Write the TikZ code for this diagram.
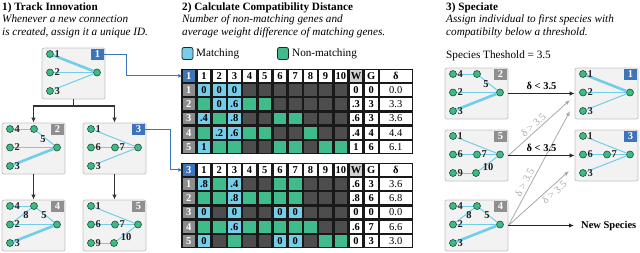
\documentclass[tikz,border=0pt]{standalone}
\usepackage{fontspec}
\setmainfont{Liberation Serif}
\usetikzlibrary{arrows.meta}

\definecolor{cm}{HTML}{74CDE9}
\definecolor{cn}{HTML}{40BB8C}
\definecolor{ca}{HTML}{4D4D4D}
\definecolor{rowgray}{HTML}{8C8C8C}
\definecolor{badgeblue}{HTML}{3D74BB}
\definecolor{badgegray}{HTML}{8F8F8F}
\definecolor{edgecyan}{HTML}{72CDE8}
\definecolor{nodegreen}{HTML}{3DBB84}
\definecolor{nodeline}{HTML}{1E4D38}
\definecolor{boxfill}{HTML}{F2F2F2}
\definecolor{boxline}{HTML}{C4C4C4}
\definecolor{arrowgray}{HTML}{A9A9A9}

\newcommand\myfs[1]{\fontsize{#1}{#1}\selectfont}

\newcommand\gframe[2]{%
  \node[gbox] (-box) at (31.5,25.5) {};%
  \node[badge, fill=#2] (-badge) at (55.5,6.5) {#1};%
}
% label right of a gene node: name, x, y, text
\newcommand\nlab[4]{\node[nl, anchor=west] (#1) at (#2+4.5,#3) {#4};}

\tikzset{
  x=1pt, y=-1pt,
  every node/.style={inner sep=0pt, font=\myfs{10.5}},
  ttl/.style={font=\myfs{11.2}\bfseries, anchor=base west},
  dsc/.style={font=\myfs{11.2}\itshape, anchor=base west},
  plaintxt/.style={font=\myfs{11.2}, anchor=base west},
  gbox/.style={draw=boxline, fill=boxfill, rounded corners=2pt, minimum width=63pt, minimum height=51pt, line width=0.8pt},
  badge/.style={minimum width=13pt, minimum height=11pt, text=white, font=\myfs{10.5}\bfseries},
  gn/.style={circle, fill=nodegreen, draw=nodeline, line width=0.6pt, minimum size=7pt},
  nl/.style={font=\myfs{10.5}\bfseries, text=black!85},
  wl/.style={font=\myfs{10.5}\bfseries, text=black!90},
  conn/.style={edgecyan, line width=1pt},
  thickconn/.style={edgecyan, line width=2.6pt},
  treearrow/.style={draw=black!80, line width=1.1pt, -{Latex[length=5pt,width=4.5pt]}},
  bconn/.style={draw=badgeblue, line width=0.9pt, -{Latex[length=4pt,width=4pt]}},
  karrow/.style={draw=black!85, line width=1.1pt, -{Latex[length=5pt,width=4.5pt]}},
  klabel/.style={font=\myfs{10.5}\bfseries},
  garrow/.style={draw=arrowgray, line width=0.8pt, -{Latex[length=5pt,width=4pt]}},
  glabel/.style={font=\myfs{10.5}, text=arrowgray},
  tbg/.style={fill=black!90, minimum width=232pt, minimum height=85.8pt},
  tcell/.style={minimum width=12.6pt, minimum height=11.8pt, font=\myfs{10.5}\bfseries},
  legsq/.style={draw=black!85, line width=0.8pt, rounded corners=2pt, minimum width=11pt, minimum height=12pt},
  genomeone/.pic={
    \gframe{1}{badgeblue}
    \node[gn] (-n1) at (8,6) {};
    \node[gn] (-n2) at (8,24.5) {};
    \node[gn] (-n3) at (8,43) {};
    \node[gn] (-o) at (55,24.5) {};
    \draw[thickconn] (-n1) -- (-o);
    \draw[conn] (-n2) -- (-o);
    \draw[conn] (-n3) -- (-o);
    \nlab{-l1}{8}{6}{1}
    \nlab{-l2}{8}{24.5}{2}
    \nlab{-l3}{8}{43}{3}
  },
  genometwo/.pic={
    \gframe{2}{badgegray}
    \node[gn] (-n4) at (8,6) {};
    \node[gn] (-h) at (32,6) {};
    \node[gn] (-n2) at (8,24.5) {};
    \node[gn] (-n3) at (8,43) {};
    \node[gn] (-o) at (55,24.5) {};
    \draw[conn] (-n4) -- (-h);
    \draw[conn] (-h) -- (-o);
    \draw[conn] (-n2) -- (-o);
    \draw[thickconn] (-n3) -- (-o);
    \nlab{-l4}{8}{6}{4}
    \nlab{-l2}{8}{24.5}{2}
    \nlab{-l3}{8}{43}{3}
    \node[wl] (-w5) at (41,16) {5};
  },
  genomethree/.pic={
    \gframe{3}{badgeblue}
    \node[gn] (-n1) at (8,6) {};
    \node[gn] (-n6) at (8,24.5) {};
    \node[gn] (-h7) at (32,24.5) {};
    \node[gn] (-n3) at (8,43) {};
    \node[gn] (-o) at (55,24.5) {};
    \draw[conn] (-n1) -- (-o);
    \draw[conn] (-n6) -- (-h7);
    \draw[conn] (-h7) -- (-o);
    \draw[conn] (-n3) -- (-o);
    \nlab{-l1}{8}{6}{1}
    \nlab{-l6}{8}{24.5}{6}
    \nlab{-l7}{32}{24.5}{7}
    \nlab{-l3}{8}{43}{3}
  },
  genomefour/.pic={
    \gframe{4}{badgegray}
    \node[gn] (-n4) at (8,6) {};
    \node[gn] (-h) at (32,6) {};
    \node[gn] (-n2) at (8,24.5) {};
    \node[gn] (-n3) at (8,43) {};
    \node[gn] (-o) at (55,24.5) {};
    \draw[conn] (-n4) -- (-h);
    \draw[conn] (-h) -- (-o);
    \draw[conn] (-n2) -- (-h);
    \draw[conn] (-n2) -- (-o);
    \draw[thickconn] (-n3) -- (-o);
    \nlab{-l4}{8}{6}{4}
    \nlab{-l2}{8}{24.5}{2}
    \nlab{-l3}{8}{43}{3}
    \node[wl] (-w8) at (24,15) {8};
    \node[wl] (-w5) at (42,15.5) {5};
  },
  genomefive/.pic={
    \gframe{5}{badgegray}
    \node[gn] (-n1) at (8,6) {};
    \node[gn] (-n6) at (8,24.5) {};
    \node[gn] (-h7) at (32,24.5) {};
    \node[gn] (-o) at (55,24.5) {};
    \node[gn] (-n9) at (8,43) {};
    \node[gn] (-h10) at (31,43) {};
    \draw[conn] (-n1) -- (-o);
    \draw[conn] (-n6) -- (-h7);
    \draw[conn] (-h7) -- (-o);
    \draw[conn] (-n9) -- (-h10);
    \draw[conn] (-h10) -- (-o);
    \nlab{-l1}{8}{6}{1}
    \nlab{-l6}{8}{24.5}{6}
    \nlab{-l7}{32}{24.5}{7}
    \nlab{-l9}{8}{43}{9}
    \node[wl] (-w10) at (43,37) {10};
  },
}

\newcommand\drawtable[4]{%
  \node[tbg] (#1-bg) at (297,#2+42.9) {};
  \node[tcell, fill=badgeblue, text=white] (#1-0-0) at (188.8,#2+7.4) {#3};
  \foreach \jj in {1,...,10} {\node[tcell, fill=white] (#1-0-\jj) at (188.8+15.2*\jj,#2+7.4) {\jj};}
  \node[tcell, fill=black!18] (#1-0-w) at (356,#2+7.4) {W};
  \node[tcell, fill=white] (#1-0-g) at (371.2,#2+7.4) {G};
  \node[tcell, fill=white, minimum width=31.4pt] (#1-0-d) at (395.8,#2+7.4) {δ};
  \foreach \ii/\cells/\wv/\gv/\dv in {#4} {
    \node[tcell, fill=rowgray, text=white] (#1-\ii-0) at (188.8,#2+7.4+14.2*\ii) {\ii};
    \foreach \kind/\val [count=\jj] in \cells {
      \node[tcell, fill=\kind] (#1-\ii-\jj) at (188.8+15.2*\jj,#2+7.4+14.2*\ii) {\val};
    }
    \node[tcell, fill=white] (#1-\ii-w) at (356,#2+7.4+14.2*\ii) {\wv};
    \node[tcell, fill=white] (#1-\ii-g) at (371.2,#2+7.4+14.2*\ii) {\gv};
    \node[tcell, fill=white, minimum width=31.4pt, font=\myfs{10.5}] (#1-\ii-d) at (395.8,#2+7.4+14.2*\ii) {\dv};
  }
}

\begin{document}
\begin{tikzpicture}
\path[fill=white, use as bounding box] (0,0) rectangle (640,252);

% ---------- Section 1 ----------
\node[ttl] (t1) at (2,10.3) {1) Track Innovation};
\node[dsc] (d1a) at (2,22) {Whenever a new connection};
\node[dsc] (d1b) at (2,35.5) {is created, assign it a unique ID.};

\pic (s1g1) at (42,48) {genomeone};
\pic (s1g2) at (2,123) {genometwo};
\pic (s1g3) at (83,123) {genomethree};
\pic (s1g4) at (2,200) {genomefour};
\pic (s1g5) at (83,200) {genomefive};

\coordinate (fork) at (73.5,106);
\draw[draw=black!80, line width=1.1pt] (s1g1-box.south) -- (fork);
\draw[treearrow] (fork) -| (s1g2-box.north);
\draw[treearrow] (fork) -| (s1g3-box.north);
\draw[treearrow] (s1g2-box.south) -- (s1g4-box.north);
\draw[treearrow] (s1g3-box.south) -- (s1g5-box.north);

% ---------- Section 2 ----------
\node[ttl] (t2) at (182,10.3) {2) Calculate Compatibility Distance};
\node[dsc] (d2a) at (182,22) {Number of non-matching genes and};
\node[dsc] (d2b) at (182,35.5) {average weight difference of matching genes.};

\node[legsq, fill=cm] (lm) at (187.5,53.5) {};
\node[font=\myfs{11.2}, anchor=west] (lmt) at (196,53.5) {Matching};
\node[legsq, fill=cn] (ln) at (283,53.5) {};
\node[font=\myfs{11.2}, anchor=west] (lnt) at (292,53.5) {Non-matching};

\drawtable{t1}{68.5}{1}{%
1/{cm/0,cm/0,cm/0,ca/{},ca/{},ca/{},ca/{},ca/{},ca/{},ca/{}}/0/0/0.0,
2/{cn/{},cm/0,cm/.6,cn/{},cn/{},ca/{},ca/{},ca/{},ca/{},ca/{}}/.3/3/3.3,
3/{cm/.4,cn/{},cm/.8,ca/{},ca/{},cn/{},cn/{},ca/{},ca/{},ca/{}}/.6/3/3.6,
4/{cn/{},cm/.2,cm/.6,cn/{},cn/{},ca/{},ca/{},cn/{},ca/{},ca/{}}/.4/4/4.4,
5/{cm/1,cn/{},cn/{},ca/{},ca/{},cn/{},cn/{},ca/{},cn/{},cn/{}}/1/6/6.1}

\drawtable{t2}{162.5}{3}{%
1/{cm/.8,cn/{},cm/.4,ca/{},ca/{},cn/{},cn/{},ca/{},ca/{},ca/{}}/.6/3/3.6,
2/{cn/{},cn/{},cm/.8,cn/{},cn/{},cn/{},cn/{},ca/{},ca/{},ca/{}}/.8/6/6.8,
3/{cm/0,ca/{},cm/0,ca/{},ca/{},cm/0,cm/0,ca/{},ca/{},ca/{}}/0/0/0.0,
4/{cn/{},cn/{},cm/.6,cn/{},cn/{},cn/{},cn/{},cn/{},ca/{},ca/{}}/.6/7/6.6,
5/{cm/0,ca/{},cn/{},ca/{},ca/{},cm/0,cm/0,ca/{},cn/{},cn/{}}/0/3/3.0}

\draw[bconn] (s1g1-badge.east) -- ++(22,0) |- (t1-0-0.west);
\draw[bconn] (s1g3-badge.east) -- ++(25,0) |- (t2-0-0.west);

% ---------- Section 3 ----------
\node[ttl] (t3) at (446,10.3) {3) Speciate};
\node[dsc] (d3a) at (446,22) {Assign individual to first species with};
\node[dsc] (d3b) at (446,35.5) {compatibilty below a threshold.};
\node[plaintxt] (thr) at (446,58) {Species Theshold = 3.5};

\pic (s3g2) at (445,68) {genometwo};
\pic (s3g5) at (445,130) {genomefive};
\pic (s3g4) at (445,200) {genomefour};
\pic (s3g1) at (575,68) {genomeone};
\pic (s3g3) at (575,130) {genomethree};

\coordinate (g1tip) at (570,100);
\coordinate (g2tip) at (570,111);
\coordinate (g3tip) at (569,171);
\draw[garrow] (s3g5-box.east) -- (g1tip) node[glabel, sloped, above=2pt, pos=0.47] {δ > 3.5};
\draw[garrow] (s3g4-box.east) -- (g2tip) node[glabel, sloped, above=2pt, pos=0.35] {δ > 3.5};
\draw[garrow] (s3g4-box.east) -- (g3tip) node[glabel, sloped, below=2pt, pos=0.69] {δ > 3.5};

\draw[karrow] (s3g2-box.east) -- (s3g1-box.west) node[klabel, midway, above=3pt] {δ < 3.5};
\draw[karrow] (s3g5-box.east) -- (s3g3-box.west) node[klabel, midway, above=3pt] {δ < 3.5};
\node[klabel, anchor=west] (newsp) at (581,225.5) {New Species};
\coordinate (nsend) at (574,225.5);
\draw[karrow] (s3g4-box.east) -- (nsend);
\end{tikzpicture}
\end{document}
